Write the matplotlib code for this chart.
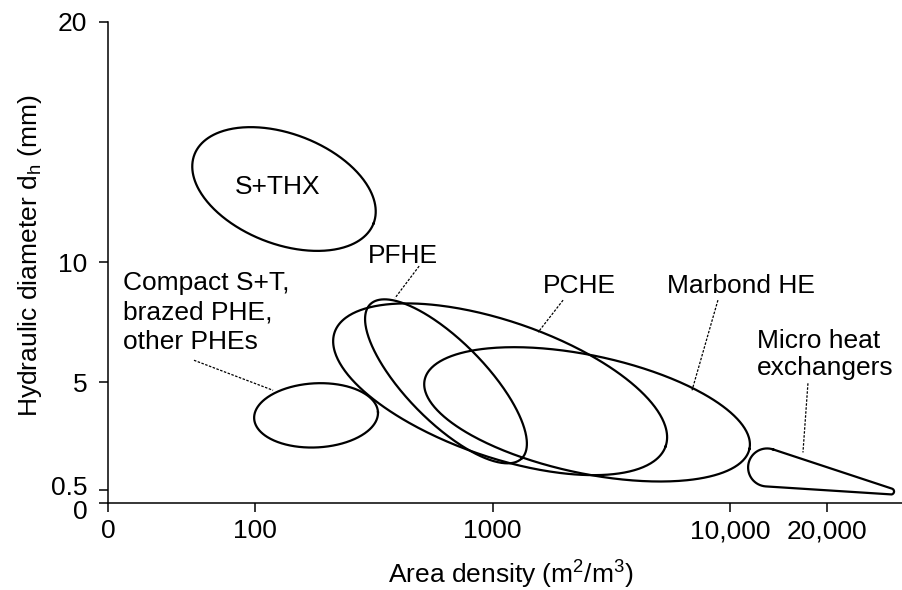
import numpy as np
import matplotlib
matplotlib.use("Agg")
import matplotlib.pyplot as plt
from matplotlib.transforms import ScaledTranslation

plt.rcParams['font.family'] = ['Liberation Sans', 'DejaVu Sans']
plt.rcParams['mathtext.fontset'] = 'custom'
plt.rcParams['mathtext.rm'] = 'Liberation Sans'

# schematic x axis: log decades between 100 and 10,000, squeezed at both ends
x_tick_labels = ['0', '100', '1000', '10,000', '20,000']
x_tick_pos = [1.381, 2.0, 3.0, 4.0, 4.408]
x_limits = [1.381, 4.724]
y_ticks = [0, 0.5, 5, 10, 20]
y_tick_labels = ['0', '0.5', '5', '10', '20']

# elliptic regions: centre (log10 area density, d_h mm), semi-axes (decades), tilt (deg)
region_names = ['S+THX', 'Compact S+T', 'PFHE', 'PCHE', 'Marbond HE']
centre_x = [2.122, 2.257, 2.804, 3.032, 3.398]
centre_y = [13.04, 3.625, 5.04, 4.71, 3.667]
semi_major = [0.404, 0.261, 0.455, 0.737, 0.699]
semi_minor = [0.232, 0.135, 0.168, 0.286, 0.248]
tilt_deg = [-21, 3, -45.5, -19, -12]

# micro heat exchangers: teardrop from a blunt end to a thin tip (x, y, radius in decades)
micro_blunt = [4.156, 1.458, 0.080]
micro_tip = [4.678, 0.458, 0.0126]

# annotations
labels = ['S+THX', 'Compact S+T,\nbrazed PHE,\nother PHEs', 'PFHE', 'PCHE',
          'Marbond HE', 'Micro heat\nexchangers']
label_x = [2.095, 1.444, 2.623, 3.368, 4.046, 4.114]
label_y = [13.125, 7.92, 10.25, 9.0, 9.0, 6.17]
label_ha = ['center', 'left', 'center', 'center', 'center', 'left']
label_spacing = [1.2, 1.29, 1.2, 1.2, 1.2, 1.14]

leader_x = [[1.743, 2.076], [2.691, 2.589], [3.297, 3.192], [3.949, 3.840], [4.328, 4.307]]
leader_y = [[5.917, 4.667], [9.833, 8.5], [8.417, 7.083], [8.417, 4.667], [4.958, 2.083]]

FS = 19

fig = plt.figure(figsize=(9.02, 5.90), dpi=100)
ax = fig.add_axes([108 / 902, 87.5 / 590, 794 / 902, 480.8 / 590])
ax.set_xlim(x_limits)
ax.set_ylim(0, 20)

# mm per decade so that shapes are drawn round in screen space
box = ax.get_window_extent()
k = (box.width / (x_limits[1] - x_limits[0])) / (box.height / 20.0)


def ellipse(cx, cy, a, b, ang):
    t = np.linspace(0, 2 * np.pi, 400)
    r = np.deg2rad(ang)
    ex, ey = a * np.cos(t), b * np.sin(t)
    x = cx + ex * np.cos(r) - ey * np.sin(r)
    y = cy + (ex * np.sin(r) + ey * np.cos(r)) * k
    return x, y


def teardrop(c1, c2):
    x1, y1, r1 = c1[0], c1[1] / k, c1[2]
    x2, y2, r2 = c2[0], c2[1] / k, c2[2]
    d = np.hypot(x2 - x1, y2 - y1)
    phi = np.arctan2(y2 - y1, x2 - x1)
    beta = np.arccos((r1 - r2) / d)
    t1 = np.linspace(phi + beta, phi + 2 * np.pi - beta, 200)
    t2 = np.linspace(phi - beta, phi + beta, 60)
    x = np.concatenate([x1 + r1 * np.cos(t1), x2 + r2 * np.cos(t2), [x1 + r1 * np.cos(t1[0])]])
    y = np.concatenate([y1 + r1 * np.sin(t1), y2 + r2 * np.sin(t2), [y1 + r1 * np.sin(t1[0])]])
    return x, y * k


for i in range(len(region_names)):
    ex, ey = ellipse(centre_x[i], centre_y[i], semi_major[i], semi_minor[i], tilt_deg[i])
    ax.plot(ex, ey, color='black', lw=1.6)

tx, ty = teardrop(micro_blunt, micro_tip)
ax.plot(tx, ty, color='black', lw=1.6)

for lx, ly in zip(leader_x, leader_y):
    ax.plot(lx, ly, color='black', lw=0.9, linestyle=(0, (2, 1.2)))

for i, txt in enumerate(labels):
    ax.text(label_x[i], label_y[i], txt, ha=label_ha[i], va='center',
            fontsize=FS, linespacing=label_spacing[i])

ax.set_xticks(x_tick_pos)
ax.set_xticklabels(x_tick_labels)
ax.set_yticks(y_ticks)
ax.set_yticklabels(y_tick_labels)
ax.tick_params(axis='both', direction='out', length=6.5, width=1.1, labelsize=FS)
ax.tick_params(axis='x', pad=5.5)
ax.tick_params(axis='y', pad=8.5)

for side in ['top', 'right']:
    ax.spines[side].set_visible(False)
for side in ['left', 'bottom']:
    ax.spines[side].set_linewidth(1.1)

# nudge the crowded 0 / 0.5 labels apart, as in the original
yt = ax.yaxis.get_major_ticks()
yt[0].label1.set_transform(yt[0].label1.get_transform() + ScaledTranslation(0, -0.07, fig.dpi_scale_trans))
yt[1].label1.set_transform(yt[1].label1.get_transform() + ScaledTranslation(0, 0.05, fig.dpi_scale_trans))

ax.text(0.5076, -0.1676, 'Area density (m$^\\mathregular{2}$/m$^\\mathregular{3}$)',
        transform=ax.transAxes, ha='center', va='baseline', fontsize=FS)
ax.text(-0.098, 0.513, 'Hydraulic diameter d$_\\mathregular{h}$ (mm)',
        transform=ax.transAxes, ha='center', va='center', rotation=90, fontsize=FS)

fig.savefig('out.png', dpi=100)
